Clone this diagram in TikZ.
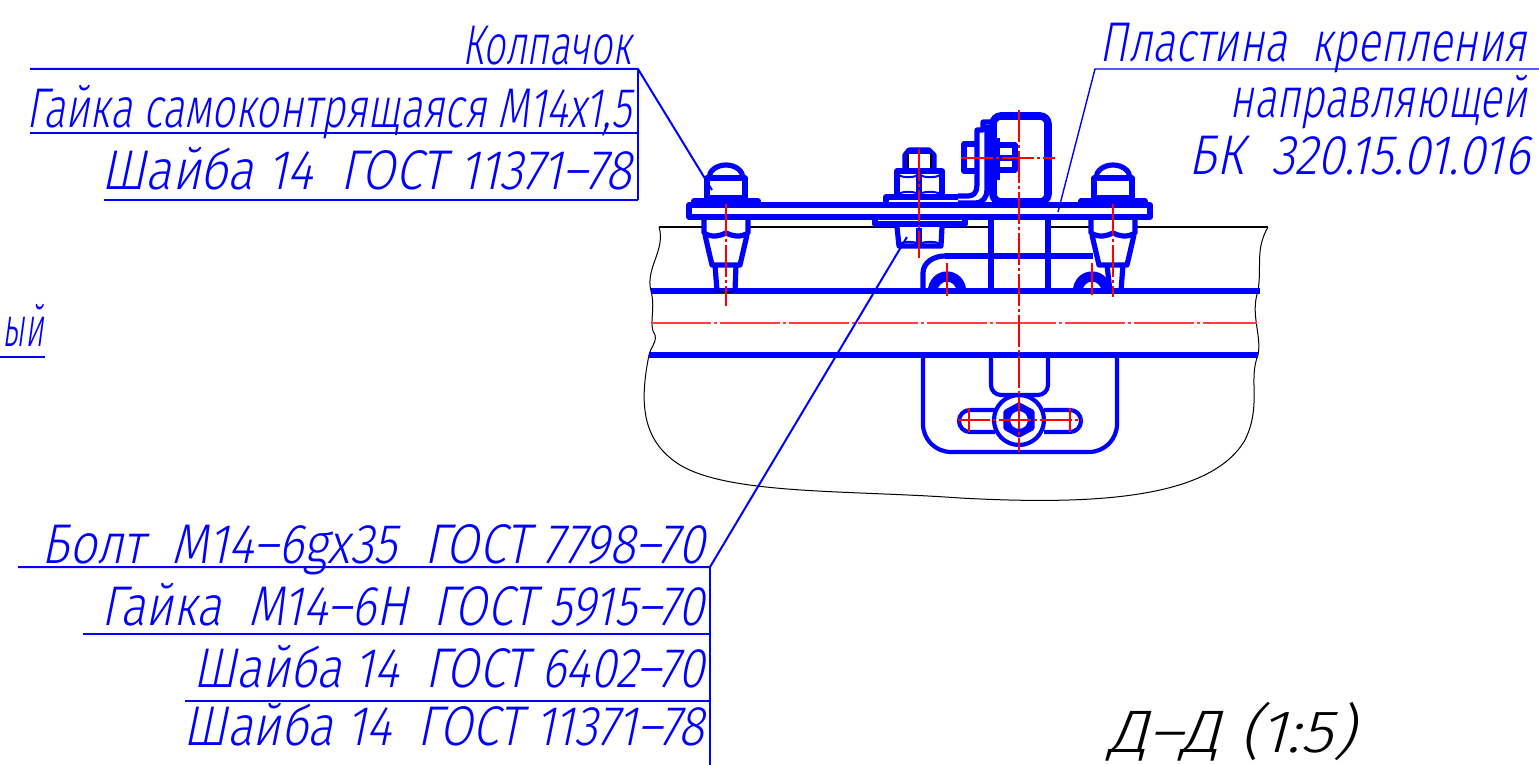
\documentclass[tikz,border=0pt]{standalone}
\usepackage{graphicx}
\usepackage{fontspec}
\newfontfamily\gostfont[FakeSlant=.24]{Fira Sans Light}
\usetikzlibrary{positioning}
\definecolor{cadblue}{RGB}{0,0,255}
\definecolor{cadred}{RGB}{255,0,0}
\newcommand{\gosttext}[2]% width, text
{\resizebox{#1}{\height}{#2}
}
% bolt with cap, washer and lower nut, centre x
\newcommand{\capbolt}[1]{
	\begin{scope}[shift={(#1,0)}]
	\draw[part] (-19,198) -- (-19,178) -- (19,178) -- (19,198) -- cycle;
	\draw[part] (-17,178) arc[start angle=180,end angle=360,x radius=17,y radius=13];
	\draw[part] (-32,205) -- (-32,201) -- (32,201) -- (32,205);
	\draw[part] (-22,217) -- (-22,233) .. controls (-14,238) and (-6,236) .. (0,233) .. controls (6,236) and (14,238) .. (22,233) -- (22,217);
	\draw[part] (-21,235) -- (-14,265) -- (14,265) -- (21,235);
	\end{scope}
}
\tikzset{
	part/.style={draw=cadblue,line width=2.6pt,line join=round},
	finepart/.style={draw=cadblue,line width=2.1pt,line join=round},
	heavypart/.style={draw=cadblue,line width=3.8pt,line join=round},
	leader/.style={draw=cadblue,line width=1pt},
	thinleader/.style={draw=cadblue,line width=.7pt},
	sheet/.style={draw=black,line width=1.3pt},
	breakline/.style={draw=black,line width=.5pt},
	longaxis/.style={draw=cadred!75!white,line width=.6pt,dash pattern=on 30pt off 1.5pt on 1.5pt off 1.5pt},
	axis/.style={draw=cadred,line width=.6pt,dash pattern=on 16pt off 1.5pt on 1.5pt off 1.5pt},
	tick/.style={draw=cadred,line width=.7pt},
	label/.style={anchor=base east,inner sep=0pt,text=cadblue,font=\gostfont\fontsize{28}{28}\selectfont},
}
\begin{document}
\begin{tikzpicture}[x=.5pt,y=-.5pt]
	\useasboundingbox (0,0) rectangle (1539,765);
	% break lines
	\draw[breakline] (659,227) .. controls (666,250) and (645,268) .. (651,291) .. controls (656,310) and (648,325) .. (655,335) .. controls (657,343) and (650,348) .. (649,355) .. controls (640,400) and (640,440) .. (680,465) .. controls (730,495) and (850,490) .. (960,498) .. controls (1090,505) and (1210,500) .. (1245,440) .. controls (1262,405) and (1248,380) .. (1258,355) .. controls (1262,335) and (1250,315) .. (1258,291) .. controls (1262,265) and (1255,250) .. (1268,227);
	% sheet
	\draw[sheet] (659,227) -- (703,227);
	\draw[sheet] (747,227) -- (897,227);
	\draw[sheet] (942,227) -- (991,227);
	\draw[sheet] (1048,227) -- (1091,227);
	\draw[sheet] (1136,227) -- (1268,227);
	% rail
	\draw[part] (651,291) -- (1260,291);
	\draw[part] (649,355) -- (1258,355);
	% plate
	\draw[part] (689,205) rectangle (1150,217);
	% bolts
	\capbolt{726}
	\capbolt{1113}
	\draw[part] (715,265) -- (717,291);
	\draw[part] (736,265) -- (735,291);
	\draw[part] (1107,265) -- (1110,291);
	\draw[part] (1123,265) -- (1121,291);
	\draw[breakline] (716,291) .. controls (722,293) and (730,293) .. (735,291);
	% middle bolt
	\draw[part] (905,170) -- (905,155) -- (909,150) -- (929,150) -- (934,155) -- (934,170);
	\draw[sheet] (908,153) -- (908,170);
	\draw[sheet] (931,153) -- (931,170);
	\draw[part,line width=1pt] (908,153) -- (931,153);
	\draw[part] (897,195) -- (897,171) -- (942,171) -- (942,195);
	\draw[part] (919,171) -- (919,195);
	\draw[part,line width=1pt] (898,175) .. controls (904,178) and (912,178) .. (919,175) .. controls (926,178) and (934,178) .. (941,175);
	\draw[part,line width=1pt] (898,194) .. controls (904,191) and (912,191) .. (919,194) .. controls (926,191) and (934,191) .. (941,194);
	\draw[part] (886,205) -- (886,197) -- (958,197);
	\draw[part] (875,217) -- (875,224) -- (965,224) -- (965,217);
	\draw[part] (897,227) -- (899,246) -- (941,246) -- (942,227);
	\draw[part] (919,228) -- (919,246);
	\draw[part,line width=1pt] (899,244) .. controls (906,241) and (912,241) .. (919,244) .. controls (926,241) and (934,241) .. (941,244);
	% bracket
	\draw[part] (958,196) -- (968,196) .. controls (974,196) and (977,192) .. (977,185) -- (977,130) -- (983,130) -- (983,122) -- (992,122);
	\draw[part] (958,203) -- (975,203) .. controls (983,203) and (987,197) .. (987,190) -- (987,125);
	% box
	\draw[heavypart,rounded corners=4pt] (993,116) rectangle (1048,202);
	% clamp bolt
	\draw[part] (975,144) -- (964,144) -- (964,171) -- (975,171);
	\draw[part] (997,180) -- (997,138);
	\draw[part] (999,145) -- (1015,145) -- (1015,170) -- (999,170);
	\draw[part] (1000,158) -- (1015,158);
	% column
	\draw[part] (991,217) -- (991,291);
	\draw[part] (1048,217) -- (1048,291);
	\draw[part] (945,256) -- (1093,256);
	\draw[part] (923,291) -- (923,273) .. controls (923,263) and (933,256) .. (945,256);
	% arches
	\draw[part] (930.5,291) arc[start angle=180,end angle=360,x radius=16.5,y radius=17];
	\draw[part] (935,291) arc[start angle=180,end angle=360,radius=12];
	\draw[part] (1075.5,291) arc[start angle=180,end angle=360,x radius=16.5,y radius=17];
	\draw[part] (1080,291) arc[start angle=180,end angle=360,radius=12];
	% lower bracket
	\draw[finepart,rounded corners=14pt] (923,355) -- (923,452) -- (1117,452) -- (1117,355);
	\draw[finepart,rounded corners=5pt] (991,355) -- (991,395) -- (1048,395) -- (1048,355);
	\draw[finepart] (995,410) -- (970,410) arc[start angle=270,end angle=90,radius=11] -- (995,432);
	\draw[finepart] (1044,410) -- (1070,410) arc[start angle=-90,end angle=90,radius=11] -- (1044,432);
	\draw[finepart] (1019,420) circle[radius=25];
	\draw[part] (1019,405) -- (1032,412) -- (1032,428) -- (1019,435) -- (1006,428) -- (1006,412) -- cycle;
	\draw[finepart] (1019,420) circle[radius=11];
	% axes
	\draw[longaxis] (651,323) -- (1257,323);
	\draw[axis] (1019,110) -- (1019,452);
	\draw[axis] (961,158) -- (1055,158);
	\draw[axis] (726,204) -- (726,306);
	\draw[axis] (1113,204) -- (1113,297);
	\draw[axis] (919,149) -- (919,258);
	\draw[axis] (958,420) -- (1082,420);
	\draw[tick] (947,263) -- (947,296);
	\draw[tick] (1092,263) -- (1092,295);
	\draw[tick] (969,408) -- (969,432);
	\draw[tick] (1070,408) -- (1070,432);
	% left top callout
	\coordinate (capshelf) at (638,69);
	\coordinate (capshelfend) at (30,69);
	\coordinate (captip) at (712,190);
	\coordinate (nutshelf) at (638,133);
	\coordinate (nutshelfend) at (30,133);
	\coordinate (washershelf) at (638,200);
	\coordinate (washershelfend) at (104,200);
	\draw[leader] (capshelfend) -- (capshelf) -- (captip);
	\draw[thinleader] (nutshelfend) -- (nutshelf);
	\draw[thinleader] (washershelfend) -- (washershelf);
	\draw[thinleader] (capshelf) -- (washershelf);
	\node[label] (cap) at (632,65){\gosttext{169\dimexpr.5pt}{Колпачок}};
	\node[label] (selfnut) at (632,128){\gosttext{605\dimexpr.5pt}{Гайка самоконтрящаяся М14х1,5}};
	\node[label] (washertop) at (632,190){\gosttext{530\dimexpr.5pt}{Шайба 14\ \ ГОСТ 11371–78}};
	% right callout
	\coordinate (plateshelf) at (1095,69);
	\coordinate (plateshelfend) at (1539,69);
	\coordinate (platetip) at (1058,212);
	\draw[thinleader] (plateshelfend) -- (plateshelf) -- (platetip);
	\node[label] (plate) at (1527,62){\gosttext{427\dimexpr.5pt}{Пластина\ \ крепления}};
	\node[label] (guide) at (1527,118){\gosttext{297\dimexpr.5pt}{направляющей}};
	\node[label] (code) at (1530,175){\gosttext{341\dimexpr.5pt}{БК\ \ 320.15.01.016}};
	% bottom callout
	\coordinate (boltshelf) at (710,567);
	\coordinate (boltshelfend) at (18,567);
	\coordinate (bolttip) at (907,237);
	\coordinate (hexshelf) at (710,634);
	\coordinate (hexshelfend) at (83,634);
	\coordinate (flatshelf) at (710,701);
	\coordinate (flatshelfend) at (185,701);
	\coordinate (bottomend) at (710,765);
	\draw[leader] (boltshelfend) -- (boltshelf) -- (bolttip);
	\draw[thinleader] (hexshelfend) -- (hexshelf);
	\draw[thinleader] (flatshelfend) -- (flatshelf);
	\draw[thinleader] (boltshelf) -- (bottomend);
	\node[label] (bolt) at (705,563){\gosttext{663\dimexpr.5pt}{Болт\ \ М14–6gх35\ \ ГОСТ 7798–70}};
	\node[label] (hexnut) at (705,625){\gosttext{603\dimexpr.5pt}{Гайка\ \ М14–6Н\ \ ГОСТ 5915–70}};
	\node[label] (flat) at (705,687){\gosttext{511\dimexpr.5pt}{Шайба 14\ \ ГОСТ 6402–70}};
	\node[label] (spring) at (705,745){\gosttext{521\dimexpr.5pt}{Шайба 14\ \ ГОСТ 11371–78}};
	% clipped word on the left
	\coordinate (cutshelf) at (0,357);
	\coordinate (cutshelfend) at (45,357);
	\draw[thinleader] (cutshelf) -- (cutshelfend);
	\node[label] (cut) at (44,346){\gosttext{41\dimexpr.5pt}{ый}};
	% section title
	\node[label,text=black,font=\gostfont\fontsize{30}{30}\selectfont] (title) at (1355,752){\gosttext{246\dimexpr.5pt}{Д–Д (1:5)}};
\end{tikzpicture}
\end{document}
